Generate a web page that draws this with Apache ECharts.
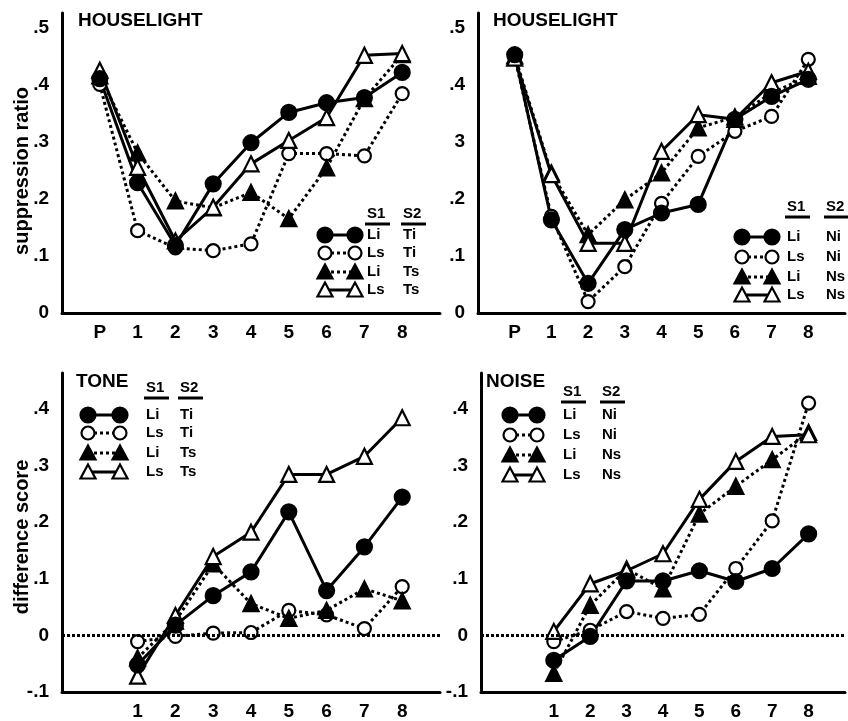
<!DOCTYPE html>
<html>
<head>
<meta charset="utf-8">
<script src="https://cdn.jsdelivr.net/npm/echarts@6/dist/echarts.min.js"></script>
<style>
  html, body { margin: 0; padding: 0; background: #fff; }
  #chart { width: 848px; height: 721px; }
</style>
</head>
<body>
<div id="chart"></div>
<script>
// session positions, P (pre-test) sits at 0
var sessionsTop = [0, 1, 2, 3, 4, 5, 6, 7, 8];
var sessionsBottom = [1, 2, 3, 4, 5, 6, 7, 8];
var topTickLabels = ['P', '1', '2', '3', '4', '5', '6', '7', '8'];
var bottomTickLabels = ['1', '2', '3', '4', '5', '6', '7', '8'];

// HOUSELIGHT, tone groups (suppression ratio)
var houseToneLiTi = [0.41, 0.228, 0.118, 0.226, 0.298, 0.351, 0.368, 0.377, 0.421];
var houseToneLsTi = [0.40, 0.144, 0.114, 0.109, 0.121, 0.279, 0.279, 0.275, 0.384];
var houseToneLiTs = [0.415, 0.28, 0.196, 0.184, 0.211, 0.165, 0.254, 0.375, 0.452];
var houseToneLsTs = [0.425, 0.255, 0.126, 0.185, 0.261, 0.302, 0.342, 0.451, 0.454];

// HOUSELIGHT, noise groups (suppression ratio)
var houseNoiseLiNi = [0.452, 0.163, 0.052, 0.146, 0.175, 0.19, 0.339, 0.379, 0.409];
var houseNoiseLsNi = [0.448, 0.169, 0.02, 0.081, 0.192, 0.274, 0.318, 0.344, 0.444];
var houseNoiseLiNs = [0.45, 0.245, 0.137, 0.198, 0.245, 0.324, 0.343, 0.385, 0.414];
var houseNoiseLsNs = [0.446, 0.242, 0.122, 0.122, 0.283, 0.347, 0.339, 0.403, 0.423];

// TONE (difference score)
var toneLiTi = [-0.052, 0.018, 0.07, 0.112, 0.218, 0.079, 0.156, 0.244];
var toneLsTi = [-0.011, -0.002, 0.004, 0.005, 0.044, 0.036, 0.012, 0.086];
var toneLiTs = [-0.04, 0.025, 0.126, 0.056, 0.03, 0.044, 0.082, 0.061];
var toneLsTs = [-0.072, 0.035, 0.139, 0.182, 0.284, 0.284, 0.316, 0.384];

// NOISE (difference score)
var noiseLiNi = [-0.044, -0.002, 0.096, 0.096, 0.114, 0.095, 0.118, 0.179];
var noiseLsNi = [-0.011, 0.009, 0.042, 0.03, 0.037, 0.118, 0.202, 0.41];
var noiseLiNs = [-0.067, 0.053, 0.117, 0.082, 0.214, 0.263, 0.31, 0.358];
var noiseLsNs = [0.007, 0.091, 0.114, 0.144, 0.24, 0.307, 0.351, 0.354];

var FONT = '"Liberation Sans", Arial, sans-serif';

// marker / line look for the 4 groups
var looks = [
  { symbol: 'circle', size: 15, fill: '#000', dotted: false },
  { symbol: 'circle', size: 13, fill: '#fff', dotted: true },
  { symbol: 'triangle', size: 15, fill: '#000', dotted: true },
  { symbol: 'triangle', size: 15, fill: '#fff', dotted: false }
];

function yFmt(v) {
  var t = Math.round(v * 10);
  if (Math.abs(v * 10 - t) > 1e-6) return '';
  if (t === 0) return '0';
  return (t < 0 ? '-' : '') + '.' + Math.abs(t);
}

function xAxisFor(grid, xs, labels) {
  return {
    type: 'value', gridIndex: grid, min: -1, max: 9, interval: 1,
    axisLine: { onZero: false, lineStyle: { color: '#000', width: 3 } },
    axisTick: { show: false }, splitLine: { show: false },
    axisLabel: {
      margin: 10, color: '#000', fontWeight: 'bold', fontSize: 19, fontFamily: FONT,
      formatter: function (v) {
        var i = xs.indexOf(Math.round(v));
        return (i >= 0 && Math.abs(v - Math.round(v)) < 1e-6) ? labels[i] : '';
      }
    }
  };
}

function yAxisFor(grid, min, max, fmt) {
  return {
    type: 'value', gridIndex: grid, min: min, max: max, interval: 0.1,
    axisLine: { show: true, onZero: false, lineStyle: { color: '#000', width: 3 } },
    axisTick: { show: false }, splitLine: { show: false },
    axisLabel: {
      margin: 13, color: '#000', fontWeight: 'bold', fontSize: 19, fontFamily: FONT,
      formatter: fmt || yFmt
    }
  };
}

function mk(grid, xs, ys, look) {
  return {
    type: 'line', xAxisIndex: grid, yAxisIndex: grid,
    data: xs.map(function (x, i) { return [x, ys[i]]; }),
    symbol: look.symbol, symbolSize: look.size, showAllSymbol: true,
    itemStyle: { color: look.fill, borderColor: '#000', borderWidth: 2.2 },
    lineStyle: { color: '#000', width: 3, type: look.dotted ? 'dotted' : 'solid' },
    animation: false, z: 3
  };
}

function zeroLine(grid) {
  return {
    type: 'line', xAxisIndex: grid, yAxisIndex: grid, data: [],
    markLine: {
      silent: true, symbol: 'none', label: { show: false }, animation: false,
      lineStyle: { color: '#000', width: 3, type: [3, 2] },
      data: [{ yAxis: 0 }]
    },
    z: 1
  };
}

// hand-drawn legend: symbol-line-symbol, then S1 and S2 columns
function legendBlock(sx1, sx2, t1, t2, headY, rows, s2) {
  var els = [];
  var head = [['S1', t1], ['S2', t2]];
  head.forEach(function (h) {
    els.push({ type: 'text', style: { text: h[0], x: h[1], y: headY, font: 'bold 15px ' + FONT, fill: '#000',
      textAlign: 'left', textVerticalAlign: 'middle', align: 'left', verticalAlign: 'middle' } });
    els.push({ type: 'line', shape: { x1: h[1] - 2, y1: headY + 10, x2: h[1] + 23, y2: headY + 10 },
      style: { stroke: '#000', lineWidth: 3 } });
  });
  var s1 = ['Li', 'Ls', 'Li', 'Ls'];
  rows.forEach(function (y, i) {
    var lk = looks[i];
    els.push({ type: 'line', shape: { x1: sx1, y1: y, x2: sx2, y2: y },
      style: { stroke: '#000', lineWidth: 3, lineDash: lk.dotted ? [3, 3] : null } });
    [sx1, sx2].forEach(function (cx) {
      if (lk.symbol === 'circle') {
        var r = lk.fill === '#000' ? 7.5 : 6.5;
        els.push({ type: 'circle', shape: { cx: cx, cy: y, r: r },
          style: { fill: lk.fill, stroke: '#000', lineWidth: 2.2 } });
      } else {
        els.push({ type: 'polygon', shape: { points: [[cx, y - 7.5], [cx - 7.5, y + 6.5], [cx + 7.5, y + 6.5]] },
          style: { fill: lk.fill, stroke: '#000', lineWidth: 2.2 } });
      }
    });
    els.push({ type: 'text', style: { text: s1[i], x: t1, y: y, font: 'bold 15px ' + FONT, fill: '#000',
      textAlign: 'left', textVerticalAlign: 'middle', align: 'left', verticalAlign: 'middle' } });
    els.push({ type: 'text', style: { text: s2[i], x: t2, y: y, font: 'bold 15px ' + FONT, fill: '#000',
      textAlign: 'left', textVerticalAlign: 'middle', align: 'left', verticalAlign: 'middle' } });
  });
  return els;
}

function axisName(text, x, y) {
  return { type: 'text', x: x, y: y, rotation: Math.PI / 2,
    style: { text: text, x: 0, y: 0, font: 'bold 20px ' + FONT, fill: '#000',
      textAlign: 'center', textVerticalAlign: 'middle', align: 'center', verticalAlign: 'middle' } };
}

var graphics = []
  .concat(legendBlock(325, 355, 367, 403, 214, [235, 253, 272, 290], ['Ti', 'Ti', 'Ts', 'Ts']))
  .concat(legendBlock(742, 772, 787, 826, 207, [237, 257, 277, 295], ['Ni', 'Ni', 'Ns', 'Ns']))
  .concat(legendBlock(88, 120, 146, 180, 388, [415, 433, 453, 472], ['Ti', 'Ti', 'Ts', 'Ts']))
  .concat(legendBlock(510, 537, 563, 602, 392, [415, 435, 455, 475], ['Ni', 'Ni', 'Ns', 'Ns']));
graphics.push(axisName('suppression ratio', 22, 171));
graphics.push(axisName('difference score', 22, 537));

var titleStyle = { color: '#000', fontWeight: 'bold', fontSize: 19, fontFamily: FONT };

var option = {
  backgroundColor: '#fff',
  animation: false,
  title: [
    { text: 'HOUSELIGHT', left: 78, top: 11, textStyle: titleStyle, padding: 0 },
    { text: 'HOUSELIGHT', left: 493, top: 11, textStyle: titleStyle, padding: 0 },
    { text: 'TONE', left: 76, top: 372, textStyle: titleStyle, padding: 0 },
    { text: 'NOISE', left: 486, top: 372, textStyle: titleStyle, padding: 0 }
  ],
  grid: [
    { left: 62, top: 13, width: 378, height: 300 },
    { left: 478, top: 13, width: 378, height: 300 },
    { left: 62, top: 373, width: 378, height: 321 },
    { left: 481, top: 373, width: 378, height: 321 }
  ],
  xAxis: [
    xAxisFor(0, sessionsTop, topTickLabels),
    xAxisFor(1, sessionsTop, topTickLabels),
    xAxisFor(2, sessionsBottom, bottomTickLabels),
    xAxisFor(3, sessionsBottom, bottomTickLabels)
  ],
  yAxis: [
    yAxisFor(0, 0, 0.525),
    yAxisFor(1, 0, 0.525, function (v) { var s = yFmt(v); return s === '.3' ? '3' : s; }),
    yAxisFor(2, -0.1, 0.463),
    yAxisFor(3, -0.1, 0.463)
  ],
  series: [
    mk(0, sessionsTop, houseToneLsTi, looks[1]),
    mk(0, sessionsTop, houseToneLiTs, looks[2]),
    mk(0, sessionsTop, houseToneLsTs, looks[3]),
    mk(0, sessionsTop, houseToneLiTi, looks[0]),

    mk(1, sessionsTop, houseNoiseLsNi, looks[1]),
    mk(1, sessionsTop, houseNoiseLiNs, looks[2]),
    mk(1, sessionsTop, houseNoiseLsNs, looks[3]),
    mk(1, sessionsTop, houseNoiseLiNi, looks[0]),

    zeroLine(2),
    mk(2, sessionsBottom, toneLsTi, looks[1]),
    mk(2, sessionsBottom, toneLiTs, looks[2]),
    mk(2, sessionsBottom, toneLsTs, looks[3]),
    mk(2, sessionsBottom, toneLiTi, looks[0]),

    zeroLine(3),
    mk(3, sessionsBottom, noiseLsNi, looks[1]),
    mk(3, sessionsBottom, noiseLiNs, looks[2]),
    mk(3, sessionsBottom, noiseLsNs, looks[3]),
    mk(3, sessionsBottom, noiseLiNi, looks[0])
  ],
  graphic: graphics
};

var chart = echarts.init(document.getElementById('chart'), null, { renderer: 'canvas' });
chart.setOption(option);
</script>
</body>
</html>
